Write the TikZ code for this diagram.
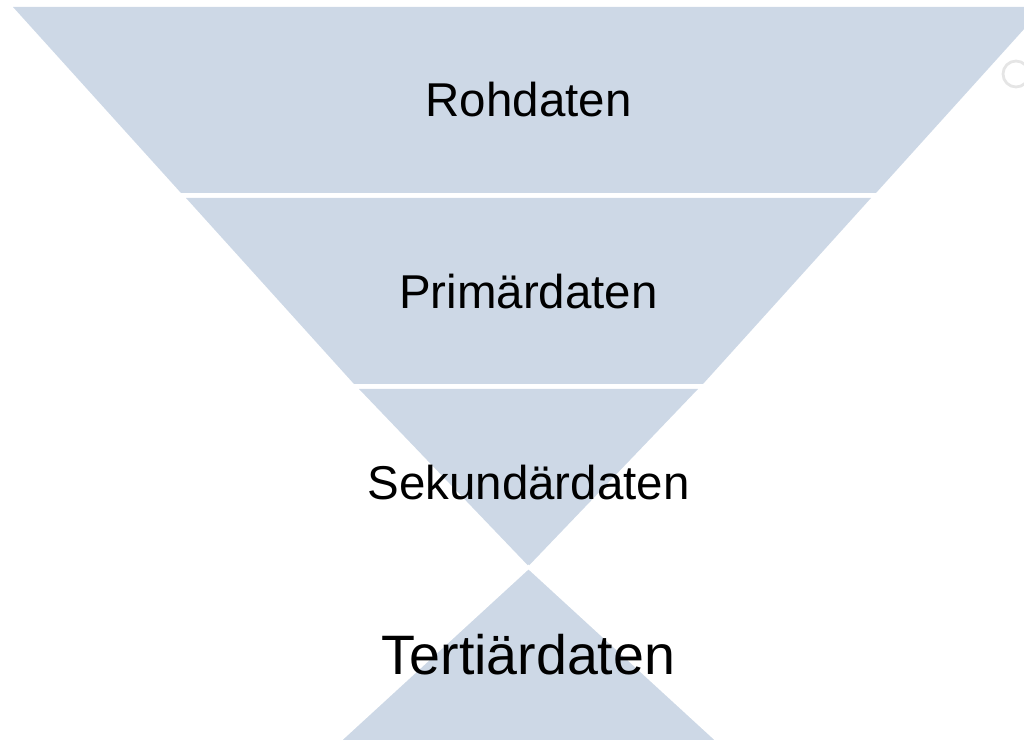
\documentclass[tikz,border=0pt]{standalone}
\usepackage{fontspec}
\setmainfont{Liberation Sans}
\definecolor{funnelblue}{RGB}{205,216,230}
\begin{document}
\begin{tikzpicture}[x=0.01cm,y=-0.01cm,
    band/.style={fill=funnelblue},
    label/.style={font=\fontsize{13.5}{16}\selectfont}]
      \useasboundingbox (0,0) rectangle (1024,740);
      \clip (0,0) rectangle (1024,740);
      \fill[band] (13,7) -- (1044,7) -- (876,193) -- (181,193) -- cycle;
      \fill[band] (186,198) -- (871,198) -- (703,384) -- (354,384) -- cycle;
      \fill[band] (359,389) -- (698,389) -- (528.5,566) -- cycle;
      \draw[band,draw=white,line width=1pt] (528.5,567) -- (728,750) -- (329,750) -- cycle;
      \draw[black!10,line width=0.8pt] (1016,74) circle (13);
      \draw
        (528.5,100) node[label] (roh){Rohdaten}
        (528.5,292) node[label] (prim){Primärdaten}
        (528.5,483) node[label] (sek){Sekundärdaten}
        (528.5,655) node[label,font=\fontsize{15.8}{18}\selectfont] (tert){Tertiärdaten};
    \end{tikzpicture}
\end{document}
